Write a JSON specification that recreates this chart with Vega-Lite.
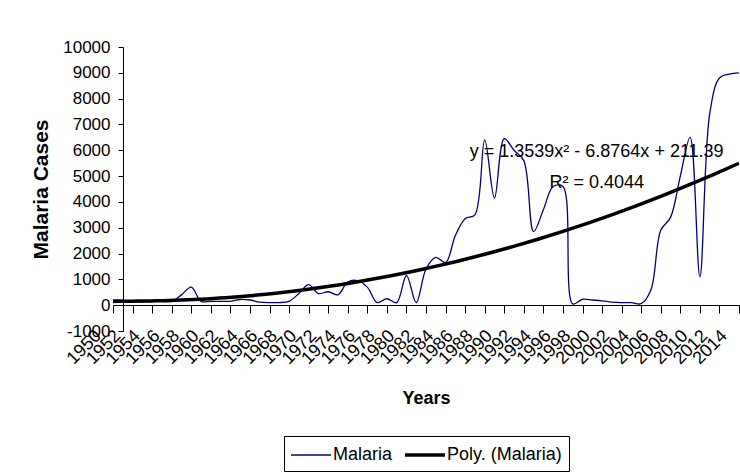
{
  "$schema": "https://vega.github.io/schema/vega-lite/v6.json",
  "width": 626,
  "height": 284,
  "autosize": {"type": "none"},
  "padding": {"left": 113, "top": 47, "right": 1, "bottom": 142},
  "background": "white",
  "config": {
    "font": "Liberation Sans",
    "view": {"stroke": null},
    "axis": {"labelColor": "black", "titleColor": "black", "domainColor": "black", "tickColor": "black", "grid": false, "labelFontSize": 17, "titleFontSize": 18, "titleFontWeight": "bold"},
    "legend": {"labelColor": "black", "labelFontSize": 18}
  },
  "data": {
    "values": [
      {"year": 1950, "cases": 100}, {"year": 1951, "cases": 120}, {"year": 1952, "cases": 130}, {"year": 1953, "cases": 130},
      {"year": 1954, "cases": 140}, {"year": 1955, "cases": 150}, {"year": 1956, "cases": 150}, {"year": 1957, "cases": 400},
      {"year": 1958, "cases": 700}, {"year": 1959, "cases": 150}, {"year": 1960, "cases": 150}, {"year": 1961, "cases": 150},
      {"year": 1962, "cases": 150}, {"year": 1963, "cases": 220}, {"year": 1964, "cases": 200}, {"year": 1965, "cases": 120},
      {"year": 1966, "cases": 100}, {"year": 1967, "cases": 100}, {"year": 1968, "cases": 150}, {"year": 1969, "cases": 450},
      {"year": 1970, "cases": 800}, {"year": 1971, "cases": 450}, {"year": 1972, "cases": 520}, {"year": 1973, "cases": 400},
      {"year": 1974, "cases": 900}, {"year": 1975, "cases": 950}, {"year": 1976, "cases": 700}, {"year": 1977, "cases": 100},
      {"year": 1978, "cases": 250}, {"year": 1979, "cases": 100}, {"year": 1980, "cases": 1150}, {"year": 1981, "cases": 100},
      {"year": 1982, "cases": 1400}, {"year": 1983, "cases": 1850}, {"year": 1984, "cases": 1650}, {"year": 1985, "cases": 2700},
      {"year": 1986, "cases": 3350}, {"year": 1987, "cases": 3500}, {"year": 1988, "cases": 6400}, {"year": 1989, "cases": 4150},
      {"year": 1990, "cases": 6450}, {"year": 1991, "cases": 6000}, {"year": 1992, "cases": 5600}, {"year": 1993, "cases": 2850},
      {"year": 1994, "cases": 3700}, {"year": 1995, "cases": 4600}, {"year": 1996, "cases": 4600}, {"year": 1997, "cases": 50},
      {"year": 1998, "cases": 230}, {"year": 1999, "cases": 200}, {"year": 2000, "cases": 170}, {"year": 2001, "cases": 120},
      {"year": 2002, "cases": 100}, {"year": 2003, "cases": 100}, {"year": 2004, "cases": 60}, {"year": 2005, "cases": 600},
      {"year": 2006, "cases": 2900}, {"year": 2007, "cases": 3400}, {"year": 2008, "cases": 5000}, {"year": 2009, "cases": 6500},
      {"year": 2010, "cases": 1100}, {"year": 2011, "cases": 7400}, {"year": 2012, "cases": 8800}, {"year": 2013, "cases": 8950},
      {"year": 2014, "cases": 9000}
    ]
  },
  "encoding": {
    "x": {
      "field": "year", "type": "quantitative",
      "scale": {"domain": [1950, 2014], "nice": false, "zero": false},
      "axis": {
        "title": "Years", "offset": -26,
        "values": [1950,1952,1954,1956,1958,1960,1962,1964,1966,1968,1970,1972,1974,1976,1978,1980,1982,1984,1986,1988,1990,1992,1994,1996,1998,2000,2002,2004,2006,2008,2010,2012,2014],
        "format": "d", "labelAngle": -45, "labelAlign": "right", "labelBaseline": "middle", "labelFontSize": 18,
        "labelOffset": -15, "labelPadding": 20, "tickSize": 8, "labelOverlap": false, "labelBound": false, "labelFlush": false,
        "titlePadding": 22
      }
    },
    "y": {
      "field": "cases", "type": "quantitative",
      "scale": {"domain": [-1000, 10000], "nice": false, "zero": false},
      "axis": {
        "title": "Malaria Cases", "titleFontSize": 21, "offset": -10,
        "values": [-1000,0,1000,2000,3000,4000,5000,6000,7000,8000,9000,10000],
        "format": "d", "labelExpr": "replace(datum.label, '−', '-')", "tickSize": 5, "labelPadding": 8, "titlePadding": 11, "labelOverlap": false
      }
    }
  },
  "layer": [
    {
      "mark": {"type": "line", "interpolate": "catmull-rom", "strokeWidth": 1.3},
      "encoding": {
        "color": {
          "datum": "Malaria",
          "scale": {"domain": ["Malaria", "Poly. (Malaria)"], "range": ["#000080", "#000000"]},
          "legend": {
            "title": null, "orient": "none", "legendX": 171, "legendY": 389, "direction": "horizontal",
            "symbolType": "M-2,0H2", "symbolSize": 400, "symbolOffset": 8, "labelOffset": 10,
            "strokeColor": "black", "padding": 7, "columnPadding": 5,
            "encode": {"symbols": {"update": {"strokeWidth": {"signal": "(datum.value === 'Malaria' ? 1.3 : 3.5)"}}}}
          }
        }
      }
    },
    {
      "transform": [{"regression": "cases", "on": "year", "method": "poly", "order": 2, "extent": [1950, 2014]}],
      "mark": {"type": "line", "strokeWidth": 3.5},
      "encoding": {"color": {"datum": "Poly. (Malaria)"}}
    },
    {
      "transform": [{"filter": {"field": "year", "equal": 1950}}],
      "mark": {"type": "text", "fontSize": 18, "align": "center", "baseline": "middle", "color": "black"},
      "encoding": {"x": {"datum": 1999.45, "type": "quantitative"}, "y": {"datum": 5940, "type": "quantitative"}, "text": {"value": "y = 1.3539x² - 6.8764x + 211.39"}}
    },
    {
      "transform": [{"filter": {"field": "year", "equal": 1950}}],
      "mark": {"type": "text", "fontSize": 18, "align": "center", "baseline": "middle", "color": "black"},
      "encoding": {"x": {"datum": 1999.45, "type": "quantitative"}, "y": {"datum": 4730, "type": "quantitative"}, "text": {"value": "R² = 0.4044"}}
    }
  ]
}
